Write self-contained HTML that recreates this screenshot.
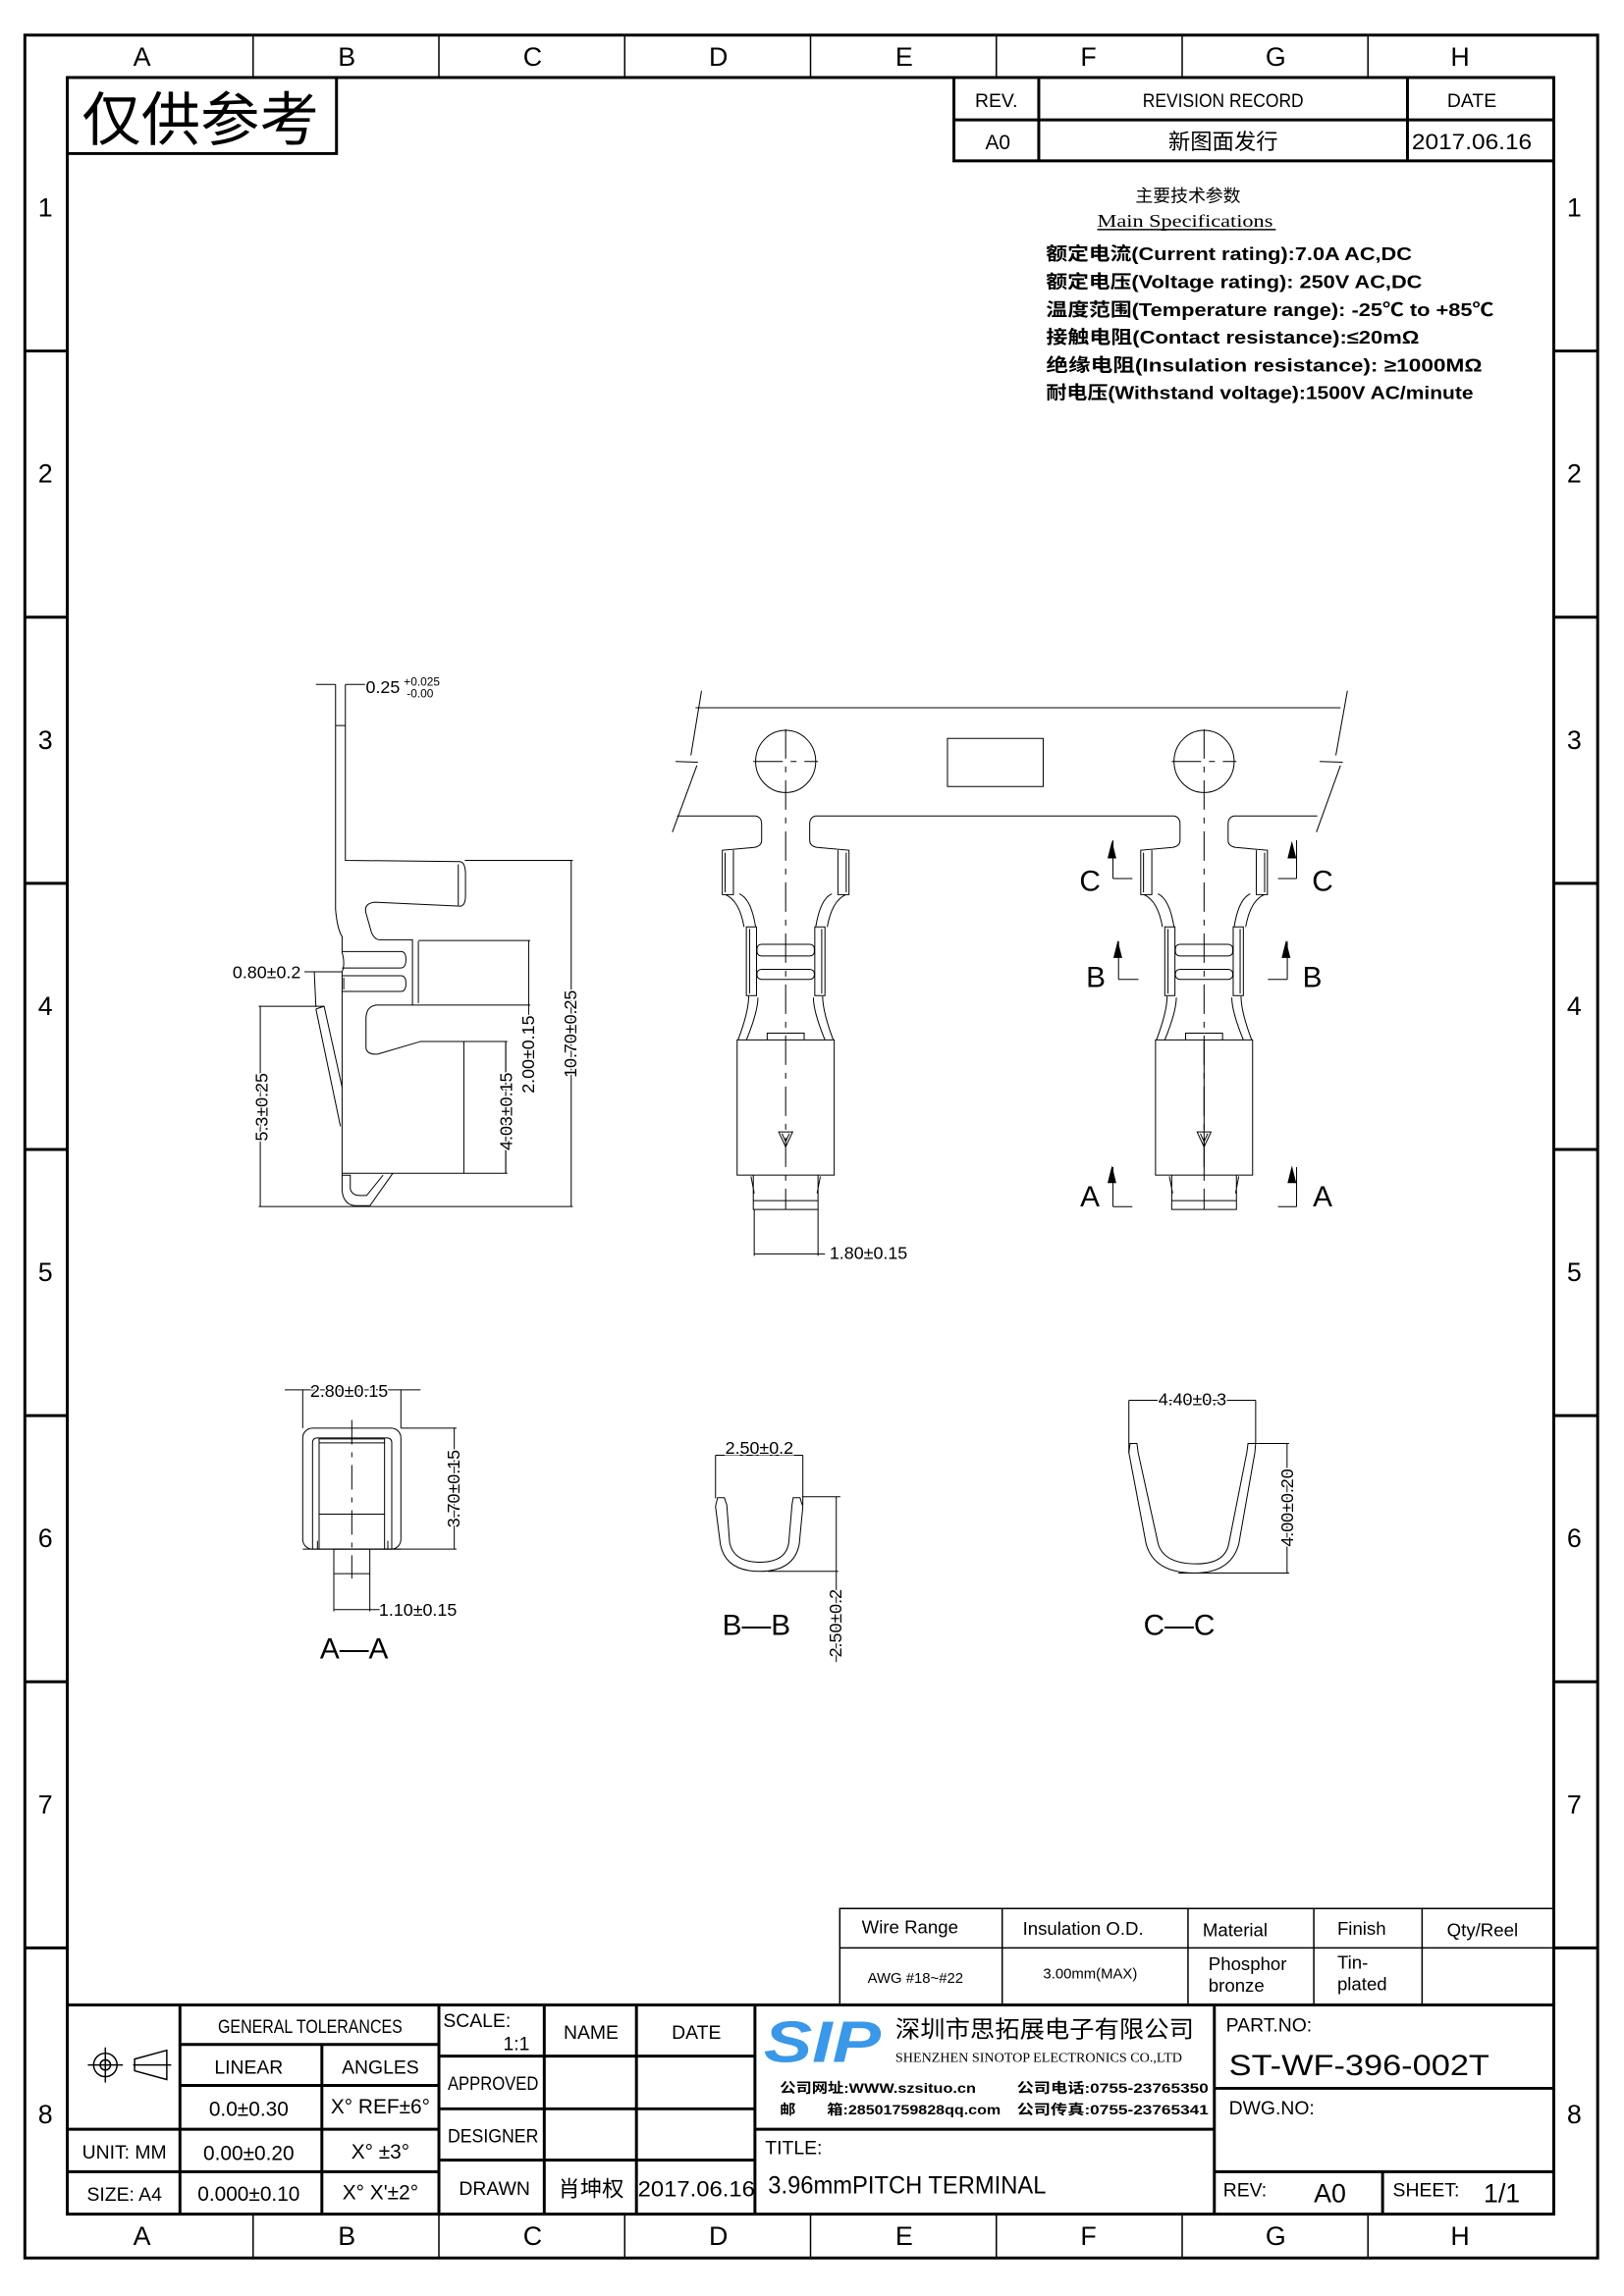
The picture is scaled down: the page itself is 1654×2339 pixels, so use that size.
<!DOCTYPE html>
<html><head><meta charset="utf-8"><style>
html,body{margin:0;padding:0;background:#fff}
svg{display:block}
text{font-family:"Liberation Sans","Noto Sans CJK SC",sans-serif;fill:#000}
.s{font-family:"Liberation Serif","Noto Serif CJK SC","Noto Sans CJK SC",serif}
.h{paint-order:stroke;stroke:#fff;stroke-width:2px}
.l{fill:none;stroke:#000;stroke-width:1}
.t{fill:none;stroke:#000;stroke-width:2}
.n{vector-effect:non-scaling-stroke}
</style></head><body>
<svg width="1654" height="2339" viewBox="0 0 1110 1570" preserveAspectRatio="none" xmlns="http://www.w3.org/2000/svg">
<rect width="1110" height="1570" fill="#fff"/>
<!-- frame -->
<rect x="17" y="24" width="1075" height="1520" class="t"/>
<rect x="46" y="53" width="1016" height="1461" class="t"/>
<g class="l">
<path d="M173,24V53M300,24V53M427,24V53M554,24V53M681,24V53M808,24V53M935,24V53"/>
<path d="M173,1514V1544M300,1514V1544M427,1514V1544M554,1514V1544M681,1514V1544M808,1514V1544M935,1514V1544"/>
</g>
<g class="t"><path d="M17,240H46M17,422H46M17,604H46M17,786H46M17,968H46M17,1150H46M17,1332H46"/>
<path d="M1062,240H1092M1062,422H1092M1062,604H1092M1062,786H1092M1062,968H1092M1062,1150H1092M1062,1332H1092"/></g>
<g font-size="18" text-anchor="middle">
<text x="97" y="45">A</text><text x="237" y="45">B</text><text x="364" y="45">C</text><text x="491" y="45">D</text><text x="618" y="45">E</text><text x="744" y="45">F</text><text x="872" y="45">G</text><text x="998" y="45">H</text>
<text x="97" y="1535">A</text><text x="237" y="1535">B</text><text x="364" y="1535">C</text><text x="491" y="1535">D</text><text x="618" y="1535">E</text><text x="744" y="1535">F</text><text x="872" y="1535">G</text><text x="998" y="1535">H</text>
<text x="31" y="148">1</text><text x="31" y="330">2</text><text x="31" y="512">3</text><text x="31" y="694">4</text><text x="31" y="876">5</text><text x="31" y="1058">6</text><text x="31" y="1240">7</text><text x="31" y="1452">8</text>
<text x="1076" y="148">1</text><text x="1076" y="330">2</text><text x="1076" y="512">3</text><text x="1076" y="694">4</text><text x="1076" y="876">5</text><text x="1076" y="1058">6</text><text x="1076" y="1240">7</text><text x="1076" y="1452">8</text>
</g>
<!-- reference stamp -->
<path d="M46,105H230V53" class="t"/>
<text x="56" y="96" font-size="40" textLength="162" lengthAdjust="spacingAndGlyphs">仅供参考</text>
<!-- revision table -->
<path d="M652,53V110H1062M652,82H1062M710,53V110M962,53V110" class="t"/>
<g class="s" font-size="13" text-anchor="middle">
<text x="681" y="73">REV.</text><text x="836" y="73" textLength="110" lengthAdjust="spacingAndGlyphs">REVISION RECORD</text><text x="1006" y="73">DATE</text>
<text x="682" y="102" font-size="14">A0</text><text x="836" y="102" font-size="15">新图面发行</text><text x="1006" y="102" font-size="15" textLength="82" lengthAdjust="spacingAndGlyphs">2017.06.16</text>
</g>
<!-- specs -->
<g font-size="12">
<text x="812" y="138" text-anchor="middle" font-size="12">主要技术参数</text>
<text x="810" y="155" text-anchor="middle" class="s" textLength="120" lengthAdjust="spacingAndGlyphs">Main Specifications</text>
<path d="M750,157H872" class="l"/>
<g font-weight="bold" font-size="12.5">
<text x="715" y="178" textLength="250" lengthAdjust="spacingAndGlyphs">额定电流(Current rating):7.0A AC,DC</text>
<text x="715" y="197" textLength="257" lengthAdjust="spacingAndGlyphs">额定电压(Voltage rating): 250V AC,DC</text>
<text x="715" y="216" textLength="306" lengthAdjust="spacingAndGlyphs">温度范围(Temperature range): -25℃ to +85℃</text>
<text x="715" y="235" textLength="255" lengthAdjust="spacingAndGlyphs">接触电阻(Contact resistance):≤20mΩ</text>
<text x="715" y="254" textLength="298" lengthAdjust="spacingAndGlyphs">绝缘电阻(Insulation resistance): ≥1000MΩ</text>
<text x="715" y="273" textLength="292" lengthAdjust="spacingAndGlyphs">耐电压(Withstand voltage):1500V AC/minute</text>
</g></g>

<!-- side view -->
<g transform="matrix(0.2237,0,0,0.2674,147.7,453.3)" class="l">
<path class="n" d="M365,55V505V630Q370,680 385,700V740Q395,770 385,790V1305V1350Q390,1388 430,1388H470L540,1305"/>
<path class="n" d="M395,55V505L745,508Q762,510 762,540V595Q762,622 745,622L485,612Q450,615 458,640L475,690Q485,708 500,708H600V875H490Q458,878 458,910V985Q462,1003 495,1000L625,968H885V1305H385"/>
<path class="n" d="M365,160H395M740,515V620M618,712V870M757,968V1305"/>
<path class="n" d="M385,738H565Q580,738 580,758Q580,780 565,780H385M385,800H565Q580,800 580,820Q580,840 565,840H385M390,805V835"/>
<path class="n" d="M385,1310H410V1345Q415,1362 440,1362H460L510,1310"/>
<path class="n" d="M305,885L330,878L385,1085M305,885L380,1185"/>
<path class="n" d="M305,55H365M395,55H455M270,790H385M300,790L305,880M130,878H330M135,878V1390M130,1390H1090M618,710H960M600,875H960M955,710V900M885,968H890M885,1305H890M885,968V1305M760,505H1090M1085,505V1390"/>
</g>
<g font-size="12">
<text x="250" y="474">0.25</text><text x="276" y="469" font-size="8">+0.025</text><text x="278" y="477" font-size="8">-0.00</text>
<text x="159" y="669">0.80±0.2</text>
<text class="h" transform="translate(183,757) rotate(-90)" text-anchor="middle">5.3±0.25</text>
<text class="h" transform="translate(365,721) rotate(-90)" text-anchor="middle">2.00±0.15</text>
<text class="h" transform="translate(350,760) rotate(-90)" text-anchor="middle">4.03±0.15</text>
<text class="h" transform="translate(394,707) rotate(-90)" text-anchor="middle">10.70±0.25</text>
</g>

<!-- front view -->
<defs>
<g id="half" class="l">
<path class="n" d="M-65,365Q-52,368 -52,385V425Q-52,440 -68,443L-137,450V560H-113V450"/>
<path class="n" d="M-131,456V554M-130,560Q-100,575 -90,640M-100,558Q-75,570 -65,640"/>
<path class="n" d="M-85,640V810H-63V640ZM-78,645V805"/>
<path class="n" d="M-80,812Q-80,850 -103,920M-60,815Q-60,850 -85,920"/>
<path class="n" d="M0,920H-105V1255H0M-40,920V903H0M-70,1255V1340H0M-70,1318H0M-75,1258L-68,1300"/>
</g>
<g id="term">
<use href="#half"/><use href="#half" transform="scale(-1,1)"/>
<g class="l">
<rect class="n" x="-62" y="683" width="124" height="29" rx="10"/>
<rect class="n" x="-62" y="745" width="124" height="25" rx="10"/>
<ellipse class="n" cx="0" cy="230" rx="65" ry="77"/>
<path class="n" d="M0,150V1340M-70,230H70" stroke-dasharray="30,8,6,8"/>
<path class="n" d="M-15,1148L0,1185L15,1148ZM-8,1152L0,1172L8,1152"/>
</g></g>
</defs>
<g transform="matrix(0.316,0,0,0.276,442.2,457.2)">
<g class="l">
<path class="n" d="M105,97H1500"/>
<path class="n" d="M118,55L95,215M62,230L110,232M108,240L55,405M1515,55L1490,215M1455,230L1505,232M1500,240L1448,405"/>
<path class="n" d="M65,365H235M365,365H1140M1270,365H1450"/>
<rect class="n" x="650" y="173" width="207" height="119"/>
<path class="n" d="M1205,920V1255"/>
<path class="n" d="M232,1340V1455M370,1340V1455M232,1450H385"/>
<path class="n" d="M1008,520V425M1008,520H1050M1405,520V425M1405,520H1365M1020,770V675M1020,770H1063M1385,770V675M1385,770H1343M1008,1333V1235M1008,1333H1050M1405,1333V1235M1405,1333H1365"/>
</g>
<use href="#term" transform="translate(300,0)"/>
<use href="#term" transform="translate(1205,0)"/>
</g>
<g font-size="20" text-anchor="middle" font-weight="100">
<text x="745" y="609">C</text><text x="904" y="609">C</text>
<text x="749" y="675">B</text><text x="897" y="675">B</text>
<text x="745" y="825">A</text><text x="904" y="825">A</text>
</g>
<path d="M760,575l-3,12h6zM883,575l-3,12h6zM764,643l-3,12h6zM879,643l-3,12h6zM760,797l-3,12h6zM883,797l-3,12h6z"/>
<text x="567" y="861" font-size="12">1.80±0.15</text>

<!-- A-A -->
<g transform="matrix(0.2237,0,0,0.2237,187.9,932.9)" class="l">
<rect class="n" x="85" y="195" width="300" height="370" rx="30"/>
<path class="n" d="M115,565V240Q115,225 130,225H342Q357,225 357,240V565"/>
<path class="n" d="M135,565V228H335V565M135,240H335M135,458H335M130,540V565M345,540V565M85,565H385"/>
<rect class="n" x="180" y="565" width="110" height="75"/>
<path class="n" d="M235,170V655" stroke-dasharray="25,8,5,8"/>
<path class="n" d="M180,640V755M290,640V755M180,750H320M30,78H445M85,78V195M385,78V195M385,195H555M290,565H555M548,195V565"/>
</g>
<g font-size="12">
<text class="h" x="212" y="955">2.80±0.15</text>
<text x="259" y="1105">1.10±0.15</text>
<text class="h" transform="translate(314,1018) rotate(-90)" text-anchor="middle">3.70±0.15</text>
</g>
<text x="242" y="1134" font-size="20" text-anchor="middle" font-weight="100">A—A</text>

<!-- B-B and C-C -->
<g transform="matrix(0.2751,0,0,0.2237,469.8,939.6)" class="l">
<path class="n" d="M75,378L70,405L82,520Q95,603 180,603Q265,603 278,520L287,405L280,378H263L260,400L252,515Q245,575 180,575Q115,575 105,515L98,400L92,378Z"/>
<path class="n" d="M70,248H287M70,248V380M287,248V400M285,375H380M200,603H375M370,375V880"/>
<path class="n" d="M1100,212L1097,240L1140,520Q1160,608 1260,608Q1350,608 1370,520L1410,240L1412,212H1393L1390,240L1345,520Q1335,580 1265,580Q1185,580 1170,520L1120,240L1117,212Z"/>
<path class="n" d="M1097,80H1412M1097,80V240M1412,80V212M1412,212H1495M1220,608H1495M1490,212V608"/>
</g>
<g font-size="12">
<text class="h" x="519" y="994" text-anchor="middle">2.50±0.2</text>
<text class="h" transform="translate(575,1110) rotate(-90)" text-anchor="middle">2.50±0.2</text>
<text class="h" x="815" y="961" text-anchor="middle">4.40±0.3</text>
<text class="h" transform="translate(884,1031) rotate(-90)" text-anchor="middle">4.00±0.20</text>
</g>
<g font-size="20" text-anchor="middle" font-weight="100">
<text x="517" y="1118">B—B</text><text x="806" y="1118">C—C</text>
</g>

<!-- wire table -->
<path d="M574,1371V1305H1062M574,1332H1062M685,1305V1371M812,1305V1371M898,1305V1371M972,1305V1371" class="l"/>
<g class="s" font-size="12.5">
<text x="589" y="1322">Wire Range</text>
<text x="699" y="1323">Insulation O.D.</text>
<text x="822" y="1324">Material</text>
<text x="914" y="1323">Finish</text>
<text x="989" y="1324">Qty/Reel</text>
<text x="593" y="1356" font-size="10">AWG #18~#22</text>
<text x="713" y="1353" font-size="10">3.00mm(MAX)</text>
<text x="826" y="1347">Phosphor</text><text x="826" y="1362">bronze</text>
<text x="914" y="1346">Tin-</text><text x="914" y="1361">plated</text>
</g>

<!-- title block -->
<path d="M46,1371H1062" class="t"/>
<g class="t">
<path d="M123,1398H300M123,1426H300M46,1456H300M46,1485H300M123,1371V1514M220,1398V1514M300,1371V1514"/>
<path d="M300,1406H516M300,1442H516M300,1477H516M372,1371V1514M435,1371V1514M516,1371V1514"/>
<path d="M516,1456H830M830,1371V1514M830,1428H1062M830,1485H1062M945,1485V1514"/>
</g>
<g class="l">
<circle cx="72" cy="1412" r="8"/><circle cx="72" cy="1412" r="3.5"/>
<path d="M60,1412H84M72,1400V1424M91,1412H117M92,1408L114,1402V1422L92,1416Z"/>
</g>
<g class="s" font-size="13" text-anchor="middle">
<text x="212" y="1390" textLength="126" lengthAdjust="spacingAndGlyphs">GENERAL TOLERANCES</text>
<text x="170" y="1418">LINEAR</text><text x="260" y="1418">ANGLES</text>
<text x="170" y="1447" font-size="14">0.0±0.30</text><text x="260" y="1445" font-size="14">X° REF±6°</text>
<text x="85" y="1476">UNIT: MM</text><text x="170" y="1477" font-size="14">0.00±0.20</text><text x="260" y="1476" font-size="14">X° ±3°</text>
<text x="85" y="1505">SIZE: A4</text><text x="170" y="1505" font-size="14">0.000±0.10</text><text x="260" y="1504" font-size="14">X° X'±2°</text>
<text x="326" y="1386">SCALE:</text><text x="353" y="1402">1:1</text>
<text x="404" y="1394">NAME</text><text x="476" y="1394">DATE</text>
<text x="337" y="1429" textLength="62" lengthAdjust="spacingAndGlyphs">APPROVED</text><text x="337" y="1465" textLength="62" lengthAdjust="spacingAndGlyphs">DESIGNER</text><text x="338" y="1501">DRAWN</text>
<text x="404" y="1502" font-size="15">肖坤权</text><text x="476" y="1502" font-size="15" textLength="80" lengthAdjust="spacingAndGlyphs">2017.06.16</text>
</g>
<!-- logo -->
<text x="522" y="1410" font-size="40" font-weight="bold" font-style="italic" style="fill:#3a98e8" textLength="80" lengthAdjust="spacingAndGlyphs">SIP</text>
<text x="612" y="1393" font-size="16" textLength="204" lengthAdjust="spacingAndGlyphs">深圳市思拓展电子有限公司</text>
<text x="612" y="1410" font-size="9.5" class="s" textLength="196" lengthAdjust="spacingAndGlyphs">SHENZHEN SINOTOP ELECTRONICS CO.,LTD</text>
<g font-size="9.5" font-weight="bold">
<text x="533" y="1431" textLength="134" lengthAdjust="spacingAndGlyphs">公司网址:WWW.szsituo.cn</text>
<text x="695" y="1431" textLength="131" lengthAdjust="spacingAndGlyphs">公司电话:0755-23765350</text>
<text x="533" y="1446" textLength="151" lengthAdjust="spacingAndGlyphs">邮　　箱:28501759828qq.com</text>
<text x="695" y="1446" textLength="131" lengthAdjust="spacingAndGlyphs">公司传真:0755-23765341</text>
</g>
<g class="s">
<text x="523" y="1473" font-size="13">TITLE:</text>
<text x="525" y="1500" font-size="17" textLength="190" lengthAdjust="spacingAndGlyphs">3.96mmPITCH TERMINAL</text>
<text x="838" y="1389" font-size="13">PART.NO:</text>
<text x="840" y="1419" font-size="20" style="font-family:'Liberation Sans',sans-serif" textLength="178" lengthAdjust="spacingAndGlyphs">ST-WF-396-002T</text>
<text x="840" y="1446" font-size="13">DWG.NO:</text>
<text x="836" y="1502" font-size="13">REV:</text>
<text x="898" y="1506" font-size="18">A0</text>
<text x="952" y="1502" font-size="13">SHEET:</text>
<text x="1014" y="1506" font-size="18">1/1</text>
</g>
</svg>
</body></html>
